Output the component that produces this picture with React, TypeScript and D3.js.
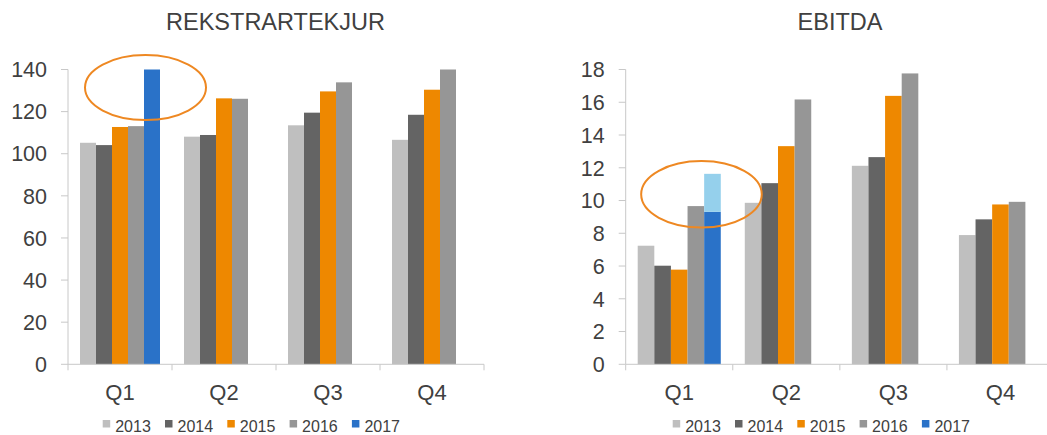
import React from "react";
import * as d3 from "d3";

const quarters = ["Q1", "Q2", "Q3", "Q4"];
const years = ["2013", "2014", "2015", "2016", "2017"];
const colors = ["#BFBFBF", "#646464", "#EE8800", "#969696", "#2A72C8"];
const estColor = "#95D0EC";

// REKSTRARTEKJUR
const rev2013 = [105.2, 108.1, 113.5, 106.6];
const rev2014 = [104.1, 108.9, 119.5, 118.5];
const rev2015 = [112.7, 126.3, 129.6, 130.4];
const rev2016 = [113.1, 126.1, 133.9, 140];
const rev2017 = [140, null, null, null];
const revTicks = [0, 20, 40, 60, 80, 100, 120, 140];

// EBITDA
const eb2013 = [7.24, 9.86, 12.12, 7.89];
const eb2014 = [6.02, 11.06, 12.65, 8.85];
const eb2015 = [5.78, 13.32, 16.39, 9.76];
const eb2016 = [9.66, 16.17, 17.76, 9.92];
const eb2017 = [9.31, null, null, null];
const eb2017Top = [11.63, null, null, null];
const ebTicks = [0, 2, 4, 6, 8, 10, 12, 14, 16, 18];

const FONT = "'Liberation Sans', Arial, sans-serif";
const TEXT = "#404040";
const AXIS = "#C8C8C8";

type PanelProps = {
  title: string;
  titleX: number;
  x0: number;
  x1: number;
  yMax: number;
  ticks: number[];
  series: (number | null)[][];
  extra?: (number | null)[];
  ellipse: { dx: number; v: number; rx: number; ry: number };
  legendX: number;
};

function Panel({ title, titleX, x0, x1, yMax, ticks, series, extra, ellipse, legendX }: PanelProps) {
  const yTop = 69.5;
  const yBot = 364.3;
  const y = d3.scaleLinear().domain([0, yMax]).range([yBot, yTop]);
  const xq = d3.scaleBand<string>().domain(quarters).range([x0, x1]).padding(0);
  const bw = xq.bandwidth();
  const xy = d3.scaleBand<string>().domain(years).range([12, bw - 12]).padding(0);

  const bars: React.ReactNode[] = [];
  series.forEach((vals, si) => {
    vals.forEach((v, qi) => {
      if (v == null) return;
      const bx = (xq(quarters[qi]) as number) + (xy(years[si]) as number);
      bars.push(
        <rect key={`b${si}-${qi}`} x={bx} y={y(v)} width={xy.bandwidth()} height={y(0) - y(v)} fill={colors[si]} />
      );
    });
  });
  if (extra) {
    extra.forEach((v, qi) => {
      const base = series[4][qi];
      if (v == null || base == null) return;
      const bx = (xq(quarters[qi]) as number) + (xy(years[4]) as number);
      bars.push(
        <rect key={`e${qi}`} x={bx} y={y(v)} width={xy.bandwidth()} height={y(base) - y(v)} fill={estColor} />
      );
    });
  }

  const b17x = (xq("Q1") as number) + (xy("2017") as number) + xy.bandwidth() / 2;

  return (
    <g>
      <text x={titleX} y={29.5} textAnchor="middle" fontSize={23.5} fill={TEXT} fontFamily={FONT}>
        {title}
      </text>
      {bars}
      {/* y axis */}
      <line x1={x0} x2={x0} y1={yTop} y2={yBot} stroke={AXIS} strokeWidth={1} />
      {ticks.map((t) => (
        <g key={t}>
          <line x1={x0 - 7} x2={x0} y1={y(t)} y2={y(t)} stroke={AXIS} />
          <text x={x0 - 21} y={y(t)} dy="0.36em" textAnchor="end" fontSize={21.5} fill={TEXT} fontFamily={FONT}>
            {t}
          </text>
        </g>
      ))}
      {/* x axis */}
      <line x1={x0} x2={x1} y1={yBot} y2={yBot} stroke={AXIS} />
      {quarters.concat(["end"]).map((q, i) => {
        const xx = x0 + i * bw;
        return <line key={q} x1={xx} x2={xx} y1={yBot} y2={yBot + 6} stroke={AXIS} />;
      })}
      {quarters.map((q) => (
        <text key={q} x={(xq(q) as number) + bw / 2} y={400} textAnchor="middle" fontSize={22} fill={TEXT} fontFamily={FONT}>
          {q}
        </text>
      ))}
      {/* annotation */}
      <ellipse cx={b17x + ellipse.dx} cy={y(ellipse.v)} rx={ellipse.rx} ry={ellipse.ry} fill="none" stroke="#EE8822" strokeWidth={2} />
      {/* legend */}
      {years.map((yr, i) => (
        <g key={yr} transform={`translate(${legendX + i * 62.3},0)`}>
          <rect x={0} y={420} width={7.5} height={7.5} fill={colors[i]} />
          <text x={12.5} y={431.5} fontSize={16} fill={TEXT} fontFamily={FONT}>
            {yr}
          </text>
        </g>
      ))}
    </g>
  );
}

export default function App() {
  return (
    <svg width={1047} height={435} style={{ position: "absolute", left: 0, top: 0, background: "#fff" }}>
      <Panel
        title="REKSTRARTEKJUR"
        titleX={275.5}
        x0={68}
        x1={484}
        yMax={140}
        ticks={revTicks}
        series={[rev2013, rev2014, rev2015, rev2016, rev2017]}
        ellipse={{ dx: -6.5, v: 131.4, rx: 60.5, ry: 32.5 }}
        legendX={102.7}
      />
      <Panel
        title="EBITDA"
        titleX={840}
        x0={625.7}
        x1={1054}
        yMax={18}
        ticks={ebTicks}
        series={[eb2013, eb2014, eb2015, eb2016, eb2017]}
        extra={eb2017Top}
        ellipse={{ dx: -11, v: 10.38, rx: 60.3, ry: 33.2 }}
        legendX={672.7}
      />
    </svg>
  );
}
